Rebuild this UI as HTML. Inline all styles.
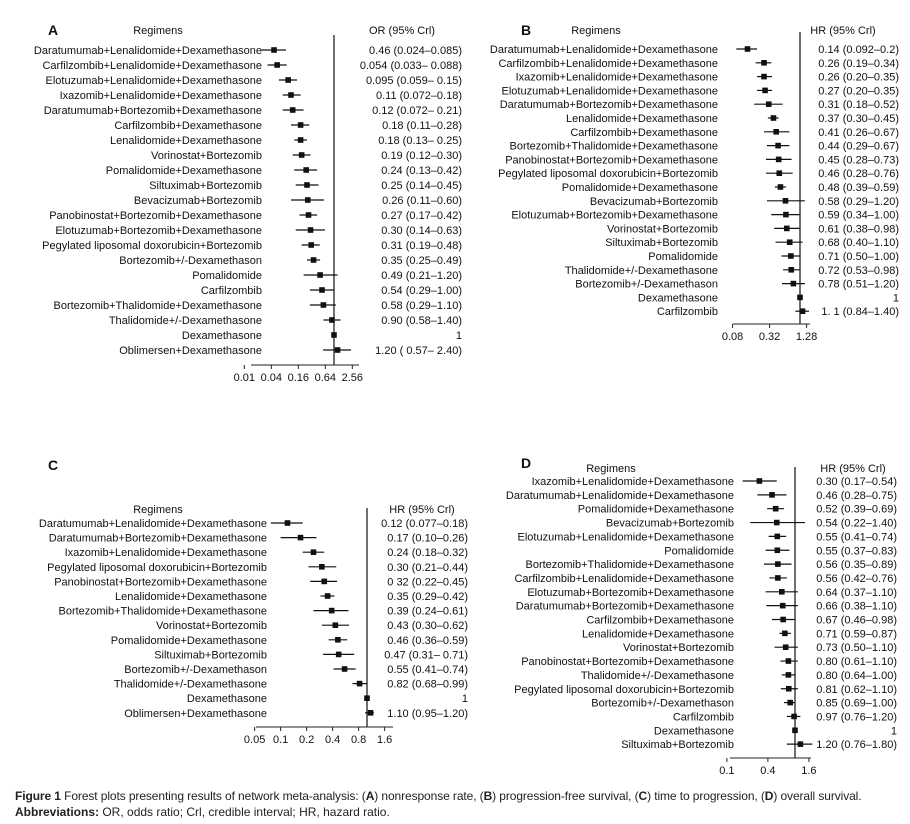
<!DOCTYPE html>
<html><head><meta charset="utf-8">
<style>
body{margin:0;background:#fff;}
svg{display:block;font-family:"Liberation Sans",Arial,sans-serif;}
.cap{position:absolute;left:15px;font-family:"Liberation Sans",sans-serif;font-size:12px;color:#222;white-space:nowrap;}
</style></head>
<body>
<div style="position:relative;width:910px;height:824px;overflow:hidden">
<svg id="fig" width="910" height="824" viewBox="0 0 910 824"></svg>
<div class="cap" style="top:789px;letter-spacing:-0.1px"><b>Figure 1</b> Forest plots presenting results of network meta-analysis: (<b>A</b>) nonresponse rate, (<b>B</b>) progression-free survival, (<b>C</b>) time to progression, (<b>D</b>) overall survival.</div>
<div class="cap" style="top:805px"><b>Abbreviations:</b> OR, odds ratio; Crl, credible interval; HR, hazard ratio.</div>
</div>
<script>
// Panel A data
const aNames=["Daratumumab+Lenalidomide+Dexamethasone","Carfilzombib+Lenalidomide+Dexamethasone","Elotuzumab+Lenalidomide+Dexamethasone","Ixazomib+Lenalidomide+Dexamethasone","Daratumumab+Bortezomib+Dexamethasone","Carfilzombib+Dexamethasone","Lenalidomide+Dexamethasone","Vorinostat+Bortezomib","Pomalidomide+Dexamethasone","Siltuximab+Bortezomib","Bevacizumab+Bortezomib","Panobinostat+Bortezomib+Dexamethasone","Elotuzumab+Bortezomib+Dexamethasone","Pegylated liposomal doxorubicin+Bortezomib","Bortezomib+/-Dexamethason","Pomalidomide","Carfilzombib","Bortezomib+Thalidomide+Dexamethasone","Thalidomide+/-Dexamethasone","Dexamethasone","Oblimersen+Dexamethasone"];
const aEst=[0.046,0.054,0.095,0.11,0.12,0.18,0.18,0.19,0.24,0.25,0.26,0.27,0.30,0.31,0.35,0.49,0.54,0.58,0.90,1,1.20];
const aLo=[0.024,0.033,0.059,0.072,0.072,0.11,0.13,0.12,0.13,0.14,0.11,0.17,0.14,0.19,0.25,0.21,0.29,0.29,0.58,1,0.57];
const aHi=[0.085,0.088,0.15,0.18,0.21,0.28,0.25,0.30,0.42,0.45,0.60,0.42,0.63,0.48,0.49,1.20,1.00,1.10,1.40,1,2.40];
const aText=["0.46 (0.024–0.085)","0.054 (0.033– 0.088)","0.095 (0.059– 0.15)","0.11 (0.072–0.18)","0.12 (0.072– 0.21)","0.18 (0.11–0.28)","0.18 (0.13– 0.25)","0.19 (0.12–0.30)","0.24 (0.13–0.42)","0.25 (0.14–0.45)","0.26 (0.11–0.60)","0.27 (0.17–0.42)","0.30 (0.14–0.63)","0.31 (0.19–0.48)","0.35 (0.25–0.49)","0.49 (0.21–1.20)","0.54 (0.29–1.00)","0.58 (0.29–1.10)","0.90 (0.58–1.40)","1","1.20 ( 0.57– 2.40)"];
const aTicks=[0.01,0.04,0.16,0.64,2.56];
// Panel B data
const bNames=["Daratumumab+Lenalidomide+Dexamethasone","Carfilzombib+Lenalidomide+Dexamethasone","Ixazomib+Lenalidomide+Dexamethasone","Elotuzumab+Lenalidomide+Dexamethasone","Daratumumab+Bortezomib+Dexamethasone","Lenalidomide+Dexamethasone","Carfilzombib+Dexamethasone","Bortezomib+Thalidomide+Dexamethasone","Panobinostat+Bortezomib+Dexamethasone","Pegylated liposomal doxorubicin+Bortezomib","Pomalidomide+Dexamethasone","Bevacizumab+Bortezomib","Elotuzumab+Bortezomib+Dexamethasone","Vorinostat+Bortezomib","Siltuximab+Bortezomib","Pomalidomide","Thalidomide+/-Dexamethasone","Bortezomib+/-Dexamethason","Dexamethasone","Carfilzombib"];
const bEst=[0.14,0.26,0.26,0.27,0.31,0.37,0.41,0.44,0.45,0.46,0.48,0.58,0.59,0.61,0.68,0.71,0.72,0.78,1,1.1];
const bLo=[0.092,0.19,0.20,0.20,0.18,0.30,0.26,0.29,0.28,0.28,0.39,0.29,0.34,0.38,0.40,0.50,0.53,0.51,1,0.84];
const bHi=[0.2,0.34,0.35,0.35,0.52,0.45,0.67,0.67,0.73,0.76,0.59,1.20,1.00,0.98,1.10,1.00,0.98,1.20,1,1.40];
const bText=["0.14 (0.092–0.2)","0.26 (0.19–0.34)","0.26 (0.20–0.35)","0.27 (0.20–0.35)","0.31 (0.18–0.52)","0.37 (0.30–0.45)","0.41 (0.26–0.67)","0.44 (0.29–0.67)","0.45 (0.28–0.73)","0.46 (0.28–0.76)","0.48 (0.39–0.59)","0.58 (0.29–1.20)","0.59 (0.34–1.00)","0.61 (0.38–0.98)","0.68 (0.40–1.10)","0.71 (0.50–1.00)","0.72 (0.53–0.98)","0.78 (0.51–1.20)","1","1. 1 (0.84–1.40)"];
const bTicks=[0.08,0.32,1.28];
// Panel C data
const cNames=["Daratumumab+Lenalidomide+Dexamethasone","Daratumumab+Bortezomib+Dexamethasone","Ixazomib+Lenalidomide+Dexamethasone","Pegylated liposomal doxorubicin+Bortezomib","Panobinostat+Bortezomib+Dexamethasone","Lenalidomide+Dexamethasone","Bortezomib+Thalidomide+Dexamethasone","Vorinostat+Bortezomib","Pomalidomide+Dexamethasone","Siltuximab+Bortezomib","Bortezomib+/-Dexamethason","Thalidomide+/-Dexamethasone","Dexamethasone","Oblimersen+Dexamethasone"];
const cEst=[0.12,0.17,0.24,0.30,0.32,0.35,0.39,0.43,0.46,0.47,0.55,0.82,1,1.10];
const cLo=[0.077,0.10,0.18,0.21,0.22,0.29,0.24,0.30,0.36,0.31,0.41,0.68,1,0.95];
const cHi=[0.18,0.26,0.32,0.44,0.45,0.42,0.61,0.62,0.59,0.71,0.74,0.99,1,1.20];
const cText=["0.12 (0.077–0.18)","0.17 (0.10–0.26)","0.24 (0.18–0.32)","0.30 (0.21–0.44)","0 32 (0.22–0.45)","0.35 (0.29–0.42)","0.39 (0.24–0.61)","0.43 (0.30–0.62)","0.46 (0.36–0.59)","0.47 (0.31– 0.71)","0.55 (0.41–0.74)","0.82 (0.68–0.99)","1","1.10 (0.95–1.20)"];
const cTicks=[0.05,0.1,0.2,0.4,0.8,1.6];
// Panel D data
const dNames=["Ixazomib+Lenalidomide+Dexamethasone","Daratumumab+Lenalidomide+Dexamethasone","Pomalidomide+Dexamethasone","Bevacizumab+Bortezomib","Elotuzumab+Lenalidomide+Dexamethasone","Pomalidomide","Bortezomib+Thalidomide+Dexamethasone","Carfilzombib+Lenalidomide+Dexamethasone","Elotuzumab+Bortezomib+Dexamethasone","Daratumumab+Bortezomib+Dexamethasone","Carfilzombib+Dexamethasone","Lenalidomide+Dexamethasone","Vorinostat+Bortezomib","Panobinostat+Bortezomib+Dexamethasone","Thalidomide+/-Dexamethasone","Pegylated liposomal doxorubicin+Bortezomib","Bortezomib+/-Dexamethason","Carfilzombib","Dexamethasone","Siltuximab+Bortezomib"];
const dEst=[0.30,0.46,0.52,0.54,0.55,0.55,0.56,0.56,0.64,0.66,0.67,0.71,0.73,0.80,0.80,0.81,0.85,0.97,1,1.20];
const dLo=[0.17,0.28,0.39,0.22,0.41,0.37,0.35,0.42,0.37,0.38,0.46,0.59,0.50,0.61,0.64,0.62,0.69,0.76,1,0.76];
const dHi=[0.54,0.75,0.69,1.40,0.74,0.83,0.89,0.76,1.10,1.10,0.98,0.87,1.10,1.10,1.00,1.10,1.00,1.20,1,1.80];
const dText=["0.30 (0.17–0.54)","0.46 (0.28–0.75)","0.52 (0.39–0.69)","0.54 (0.22–1.40)","0.55 (0.41–0.74)","0.55 (0.37–0.83)","0.56 (0.35–0.89)","0.56 (0.42–0.76)","0.64 (0.37–1.10)","0.66 (0.38–1.10)","0.67 (0.46–0.98)","0.71 (0.59–0.87)","0.73 (0.50–1.10)","0.80 (0.61–1.10)","0.80 (0.64–1.00)","0.81 (0.62–1.10)","0.85 (0.69–1.00)","0.97 (0.76–1.20)","1","1.20 (0.76–1.80)"];
const dTicks=[0.1,0.4,1.6];

const NS="http://www.w3.org/2000/svg";
const svg=document.getElementById('fig');
function mk(tag,attrs,parent){const e=document.createElementNS(NS,tag);for(const k in attrs)e.setAttribute(k,attrs[k]);(parent||svg).appendChild(e);return e;}
function txt(s,x,y,anchor,size,parent,weight){const t=mk('text',{x:x,y:y,'text-anchor':anchor,'font-size':size,fill:'#111'},parent);if(weight)t.setAttribute('font-weight',weight);t.textContent=s;return t;}

function panel(p){
  const g=mk('g',{});
  
  
  const x=v=>p.x1+p.step*Math.log(v)/Math.log(p.base);
  const t1=txt(p.id,p.letterX,p.letterY,'start',14,g,'bold');
  
  
  const t2=txt('Regimens',p.regX,p.headY,'middle',11,g);
  
  
  const t3=txt(p.head,p.headValX,p.headY,'middle',11,g);
  
  
  const ref=mk('line',{x1:x(1),x2:x(1),y1:p.lineTop,y2:p.axisY,stroke:'#222','stroke-width':1.3},g);
  
  
  const ax=mk('line',{x1:p.axL,x2:p.axR,y1:p.axisY,y2:p.axisY,stroke:'#222','stroke-width':1},g);
  
  
  p.ticks.forEach(v=>{
    const tk=mk('line',{x1:x(v),x2:x(v),y1:p.axisY,y2:p.axisY+4,stroke:'#222'},g);
    
    
    const tl=txt(String(v),x(v),p.axisY+16,'middle',11,g);
    
    
  });
  p.names.forEach((n,i)=>{
    const y=p.row0+p.dy*i;
    const lab=txt(n,p.labR,y+4,'end',11,g);
    
    
    const w=mk('line',{x1:x(p.lo[i]),x2:x(p.hi[i]),y1:y,y2:y,stroke:'#111','stroke-width':1.2},g);
    
    
    const cx=x(p.est[i]);
    const sq=mk('rect',{x:cx-2.8,y:y-2.8,width:5.6,height:5.6,fill:'#111'},g);
    
    
    const vt=txt(p.text[i],p.valR,y+4,'end',11,g);
    
    
  });
}
panel({id:'A',names:aNames,est:aEst,lo:aLo,hi:aHi,text:aText,ticks:aTicks,base:4,step:27,x1:334,
  letterX:48,letterY:35,regX:158,headY:34,head:'OR (95% Crl)',headValX:402,lineTop:35,axisY:365,axL:251,axR:359,
  row0:50,dy:15,labR:262,valR:462});
panel({id:'B',names:bNames,est:bEst,lo:bLo,hi:bHi,text:bText,ticks:bTicks,base:4,step:37,x1:800,
  letterX:521,letterY:35,regX:596,headY:34,head:'HR (95% Crl)',headValX:843,lineTop:32,axisY:324,axL:733,axR:810,
  row0:49,dy:13.8,labR:718,valR:899});
panel({id:'C',names:cNames,est:cEst,lo:cLo,hi:cHi,text:cText,ticks:cTicks,base:2,step:26,x1:367,
  letterX:48,letterY:470,regX:158,headY:513,head:'HR (95% Crl)',headValX:422,lineTop:508,axisY:727,axL:256,axR:393,
  row0:523,dy:14.6,labR:267,valR:468});
panel({id:'D',names:dNames,est:dEst,lo:dLo,hi:dHi,text:dText,ticks:dTicks,base:4,step:41,x1:795,
  letterX:521,letterY:468,regX:611,headY:472,head:'HR (95% Crl)',headValX:853,lineTop:467,axisY:758,axL:730,axR:811,
  row0:481,dy:13.85,labR:734,valR:897});
</script>
</body></html>
